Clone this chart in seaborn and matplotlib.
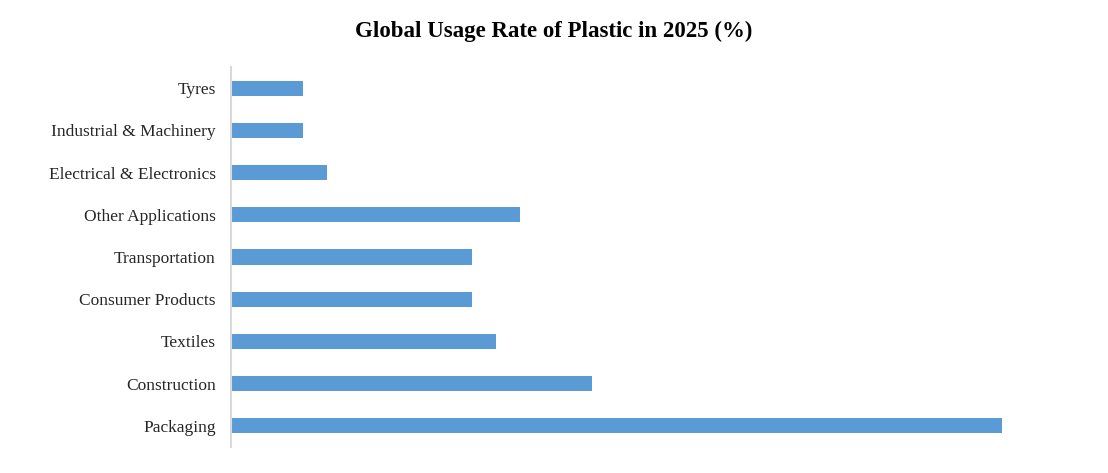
import matplotlib
matplotlib.use("Agg")
import matplotlib.pyplot as plt
import seaborn as sns
import pandas as pd

categories = ["Tyres", "Industrial & Machinery", "Electrical & Electronics",
              "Other Applications", "Transportation", "Consumer Products",
              "Textiles", "Construction", "Packaging"]
values = [3, 3, 4, 12, 10, 10, 11, 15, 32]

df = pd.DataFrame({"category": categories, "value": values})

sns.set_theme(style="white")
plt.rcParams['font.family'] = ['Liberation Serif', 'DejaVu Serif']

fig = plt.figure(figsize=(11.08, 4.73), dpi=100)
ax = fig.add_axes([231/1108, 1-447/473, (1002-231)/1108, (447-67)/473])

sns.barplot(data=df, x="value", y="category", orient="h", color="#5B9BD5",
            saturation=1, width=0.36, linewidth=0, ax=ax)

ax.set_xlim(0, 32)
ax.set_ylim(8.5, -0.5)
ax.set_xlabel("")
ax.set_ylabel("")
ax.set_xticks([])
for s in ["top", "right", "bottom"]:
    ax.spines[s].set_visible(False)
ax.spines["left"].set_color("#D9D9D9")
ax.spines["left"].set_linewidth(1.5)
ax.tick_params(axis="y", length=0, pad=11, labelsize=12.5, labelcolor="#262626")

fig.text(554/1108, 1-31/473, "Global Usage Rate of Plastic in 2025 (%)",
         ha="center", va="center", fontsize=16.5, fontweight="bold", color="black")

fig.savefig("out.png", dpi=100)
